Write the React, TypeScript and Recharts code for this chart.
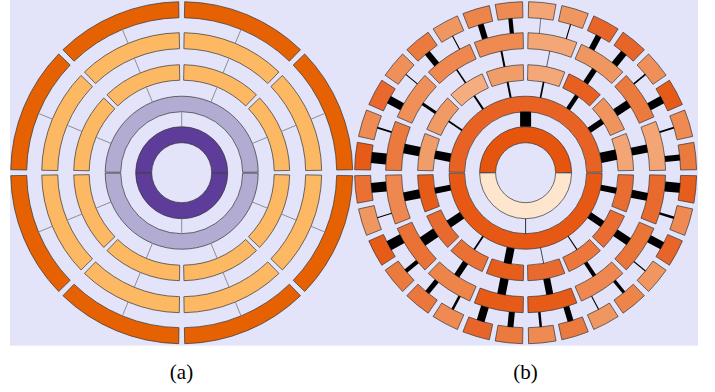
import React from 'react';
import { PieChart, Pie, Cell } from 'recharts';

// ---------- Panel (a): uniform hierarchy ----------
const aRing1 = [1, 1];
const aRing2 = [1, 1];
const aRing3 = [1, 1, 1, 1, 1, 1, 1, 1];
const aRing4 = [1, 1, 1, 1, 1, 1, 1, 1];
const aRing5 = [1, 1, 1, 1, 1, 1, 1, 1];

// ---------- Panel (b): shade value (0-100) of each node, link weight to its parent ----------
const bRing1Shade = [100, 0];
const bRing2Shade = [92, 98];
const bLink2 = [11, 0.8];

const bRing3Shade = [55, 66, 93, 53, 60, 50, 62, 60, 96, 88, 86, 95, 88, 83, 87, 87];
const bLink3 = [10.5, 6, 4.5, 1.7, 2, 2, 1.8, 8.5, 6, 8, 1.8, 8, 0.7, 1.1, 7, 6];

const bRing4Shade = [55, 82, 64, 54, 72, 73, 68, 82, 73, 85, 76, 96, 96, 73, 84, 88];
const bLink4 = [8, 8, 5.5, 0.6, 2, 1.7, 3, 9.5, 9, 10, 6, 8.5, 7, 4, 8, 8];

const bRing5Shade = [
  82, 72, 96, 68, 90, 90, 64, 55, 72, 76, 64, 82, 68, 89, 71, 96,
  86, 64, 96, 82, 83, 72, 90, 82, 72, 82, 64, 76, 64, 90, 72, 95,
];
const bLink5 = [
  6, 1.8, 8, 1.8, 7, 6, 1.1, 0.5, 4.2, 6, 1.1, 6, 1.1, 8, 1.8, 11,
  10, 1.1, 10, 4.2, 5, 2.5, 8, 6, 2.5, 6, 1.1, 3.3, 1.1, 8, 2.5, 10,
];

// ---------- layout / style ----------
const W = 715;
const H = 392;
const CY = 172.7;
const CXA = 181.7;
const CXB = 525.6;
const RADII = [
  { inner: 30, outer: 46 },
  { inner: 61, outer: 76.5 },
  { inner: 92.5, outer: 108 },
  { inner: 124, outer: 140 },
  { inner: 155, outer: 171 },
];
const PADS = [0.6, 0.8, 2.4, 2.0, 2.0];

const STOPS: [number, string][] = [
  [0, '#fee6ce'],
  [50, '#f5ad80'],
  [62, '#f09a65'],
  [72, '#ee8a52'],
  [82, '#eb7a3e'],
  [90, '#e8652a'],
  [100, '#e6550d'],
];
const hex = (s: string) => [1, 3, 5].map((i) => parseInt(s.slice(i, i + 2), 16));
function shade(v: number): string {
  for (let i = 1; i < STOPS.length; i++) {
    const [v0, c0] = STOPS[i - 1];
    const [v1, c1] = STOPS[i];
    if (v <= v1) {
      const t = (v - v0) / (v1 - v0);
      const a = hex(c0);
      const b = hex(c1);
      const m = a.map((x, k) => Math.round(x + (b[k] - x) * t));
      return `rgb(${m[0]},${m[1]},${m[2]})`;
    }
  }
  return STOPS[STOPS.length - 1][1];
}

type Node = { name: string; value: number; shade?: number; link?: number };
const nodes = (vals: number[], prefix: string, shades?: number[], links?: number[]): Node[] =>
  vals.map((v, i) => ({ name: `${prefix}${i}`, value: v, shade: shades ? shades[i] : undefined, link: links ? links[i] : undefined }));

const ones = (n: number) => Array.from({ length: n }, () => 1);

const makeLink = (parentOuter: number, color: string, width: (d: any) => number) => (props: any) => {
  const { cx, cy, midAngle, innerRadius, index } = props;
  const d = props.payload ?? props;
  const rad = (midAngle * Math.PI) / 180;
  const x1 = cx + parentOuter * Math.cos(rad);
  const y1 = cy - parentOuter * Math.sin(rad);
  const x2 = cx + innerRadius * Math.cos(rad);
  const y2 = cy - innerRadius * Math.sin(rad);
  return <line key={`lk${index}`} x1={x1} y1={y1} x2={x2} y2={y2} stroke={color} strokeWidth={width(d)} />;
};

function ring(
  key: string,
  data: Node[],
  cx: number,
  level: number,
  fill: (d: Node) => string,
  link?: { color: string; width: (d: any) => number }
) {
  const r = RADII[level];
  const pad = PADS[level];
  return (
    <Pie
      key={key}
      data={data}
      dataKey="value"
      nameKey="name"
      cx={cx}
      cy={CY}
      innerRadius={r.inner}
      outerRadius={r.outer}
      startAngle={pad / 2}
      endAngle={360 + pad / 2}
      paddingAngle={pad}
      stroke="#333"
      strokeWidth={0.7}
      isAnimationActive={false}
      labelLine={false}
      label={link ? makeLink(RADII[level - 1].outer, link.color, link.width) : false}
    >
      {data.map((d, i) => (
        <Cell key={i} fill={fill(d)} />
      ))}
    </Pie>
  );
}

export default function App() {
  const aColors = ['#5e3c99', '#b2abd2', '#fdb863', '#fdb863', '#e66101'];
  const aLink = { color: '#858585', width: () => 0.9 };
  const aData = [aRing1, aRing2, aRing3, aRing4, aRing5].map((v, i) => nodes(v, `a${i + 1}-`));

  const bData = [
    nodes(ones(2), 'b1-', bRing1Shade),
    nodes(ones(2), 'b2-', bRing2Shade, bLink2),
    nodes(ones(16), 'b3-', bRing3Shade, bLink3),
    nodes(ones(16), 'b4-', bRing4Shade, bLink4),
    nodes(ones(32), 'b5-', bRing5Shade, bLink5),
  ];
  const bLinkStyle = { color: '#000', width: (d: any) => d.link ?? 1 };

  const pies = [
    ...aData.map((d, i) => ring(`a${i}`, d, CXA, i, () => aColors[i], i > 0 ? aLink : undefined)),
    ...bData.map((d, i) => ring(`b${i}`, d, CXB, i, (n) => shade(n.shade ?? 0), i > 0 ? bLinkStyle : undefined)),
  ];

  const serif = "'Liberation Serif', 'Times New Roman', serif";
  return (
    <div style={{ position: 'absolute', left: 0, top: 0, width: W, height: H, background: '#fff' }}>
      <svg width={W} height={H} style={{ position: 'absolute', left: 0, top: 0 }}>
        <rect x={10} y={0} width={688} height={345.7} fill="#e3e3fa" />
        <text x={181.5} y={378.5} textAnchor="middle" fontFamily={serif} fontSize={21}>
          (a)
        </text>
        <text x={525.5} y={378.5} textAnchor="middle" fontFamily={serif} fontSize={21}>
          (b)
        </text>
      </svg>
      <div style={{ position: 'absolute', left: 0, top: 0 }}>
        <PieChart width={W} height={H} margin={{ top: 0, right: 0, bottom: 0, left: 0 }}>
          {pies}
        </PieChart>
      </div>
    </div>
  );
}
